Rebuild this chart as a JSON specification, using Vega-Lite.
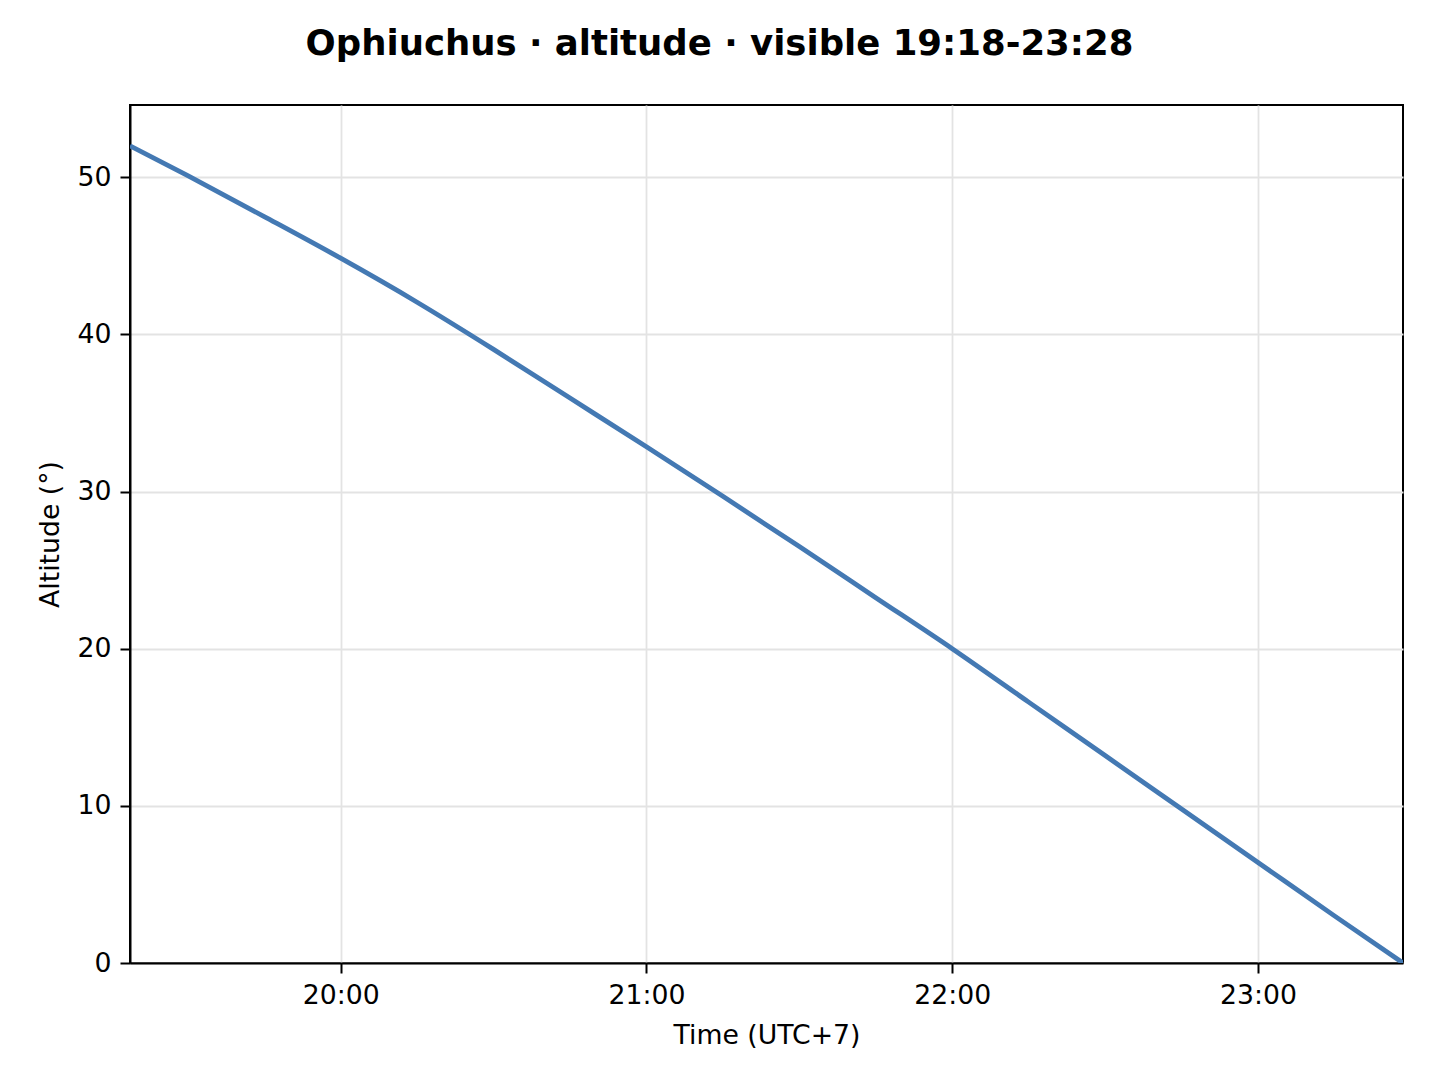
{
  "$schema": "https://vega.github.io/schema/vega-lite/v6.json",
  "autosize": {"type": "none"},
  "padding": {"left": 130, "top": 105, "right": 37, "bottom": 117},
  "width": 1273,
  "height": 858,
  "background": "white",
  "title": {
    "text": "Ophiuchus · altitude · visible 19:18-23:28",
    "font": "DejaVu Sans",
    "fontSize": 35.5,
    "fontWeight": "bold",
    "color": "black",
    "anchor": "middle",
    "dx": -47,
    "offset": 43
  },
  "config": {
    "font": "DejaVu Sans",
    "view": {"stroke": "black", "strokeWidth": 2}
  },
  "data": {
    "values": [
      {"t": "2024-01-01T19:18:40", "alt": 52.0},
      {"t": "2024-01-01T19:30:00", "alt": 50.1},
      {"t": "2024-01-01T19:45:00", "alt": 47.5},
      {"t": "2024-01-01T20:00:00", "alt": 44.85},
      {"t": "2024-01-01T20:15:00", "alt": 42.05},
      {"t": "2024-01-01T20:30:00", "alt": 39.05},
      {"t": "2024-01-01T20:45:00", "alt": 35.95},
      {"t": "2024-01-01T21:00:00", "alt": 32.85},
      {"t": "2024-01-01T21:15:00", "alt": 29.7},
      {"t": "2024-01-01T21:30:00", "alt": 26.5},
      {"t": "2024-01-01T21:45:00", "alt": 23.25},
      {"t": "2024-01-01T22:00:00", "alt": 20.0},
      {"t": "2024-01-01T22:15:00", "alt": 16.6},
      {"t": "2024-01-01T22:30:00", "alt": 13.2},
      {"t": "2024-01-01T22:45:00", "alt": 9.8},
      {"t": "2024-01-01T23:00:00", "alt": 6.4},
      {"t": "2024-01-01T23:15:00", "alt": 3.0},
      {"t": "2024-01-01T23:28:27", "alt": 0.0}
    ]
  },
  "mark": {"type": "line", "color": "#4479b3", "strokeWidth": 4.8, "interpolate": "monotone", "clip": true},
  "encoding": {
    "x": {
      "field": "t",
      "type": "temporal",
      "title": "Time (UTC+7)",
      "scale": {
        "domain": [
          {"year": 2024, "month": 1, "date": 1, "hours": 19, "minutes": 18, "seconds": 40},
          {"year": 2024, "month": 1, "date": 1, "hours": 23, "minutes": 28, "seconds": 27}
        ],
        "nice": false
      },
      "axis": {
        "values": [
          {"year": 2024, "month": 1, "date": 1, "hours": 20},
          {"year": 2024, "month": 1, "date": 1, "hours": 21},
          {"year": 2024, "month": 1, "date": 1, "hours": 22},
          {"year": 2024, "month": 1, "date": 1, "hours": 23}
        ],
        "format": "%H:%M",
        "labelFontSize": 26.7,
        "labelColor": "black",
        "labelPadding": 9,
        "labelFlush": false,
        "tickSize": 10,
        "tickWidth": 2,
        "tickColor": "black",
        "domain": true,
        "domainColor": "black",
        "domainWidth": 2,
        "grid": true,
        "gridColor": "#e3e3e3",
        "gridWidth": 1.8,
        "titleFontSize": 26.7,
        "titleFontWeight": "normal",
        "titleColor": "black",
        "titlePadding": 14
      }
    },
    "y": {
      "field": "alt",
      "type": "quantitative",
      "title": "Altitude (°)",
      "scale": {"domain": [0, 54.6], "nice": false, "zero": false},
      "axis": {
        "values": [0, 10, 20, 30, 40, 50],
        "labelFontSize": 26.7,
        "labelColor": "black",
        "labelPadding": 9,
        "labelFlush": false,
        "tickSize": 10,
        "tickWidth": 2,
        "tickColor": "black",
        "domain": true,
        "domainColor": "black",
        "domainWidth": 2,
        "grid": true,
        "gridColor": "#e3e3e3",
        "gridWidth": 1.8,
        "titleFontSize": 26.7,
        "titleFontWeight": "normal",
        "titleColor": "black",
        "titlePadding": 13
      }
    }
  }
}
